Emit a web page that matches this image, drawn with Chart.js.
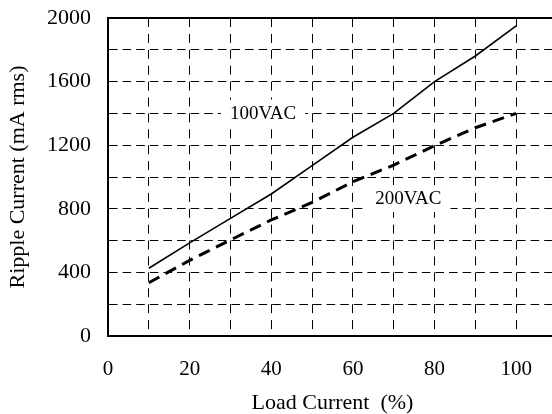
<!DOCTYPE html>
<html lang="en">
<head>
    <meta charset="UTF-8">
    <title>Ripple Current vs Load Current</title>
    <style>
        html, body { margin: 0; padding: 0; background: #fff; overflow: hidden; }
        #rippleChart { display: block; }
    </style>
</head>
<body>
    <canvas id="rippleChart" width="560" height="414"></canvas>

    <script src="https://cdn.jsdelivr.net/npm/chart.js"></script>
    <script>
        // Data
        const loadPct = [10, 20, 30, 40, 50, 60, 70, 80, 90, 100];
        const ripple100VAC = [426, 586, 740, 893, 1071, 1250, 1400, 1600, 1761, 1950];
        const ripple200VAC = [335, 476, 604, 730, 840, 970, 1075, 1197, 1310, 1400];
        const xGridValues = [0, 10, 20, 30, 40, 50, 60, 70, 80, 90, 100, 110];
        const xTickLabels = [0, 20, 40, 60, 80, 100];
        const yTickLabels = [0, 400, 800, 1200, 1600, 2000];

        const serif = '"Liberation Serif", "Times New Roman", serif';

        const toPoints = (xs, ys) => xs.map((x, i) => ({ x: x, y: ys[i] }));

        // top frame line + curve names with white boxes behind them
        const framePlugin = {
            id: 'frame',
            beforeDatasetsDraw(chart) {
                const { ctx, chartArea, scales } = chart;
                ctx.save();
                ctx.strokeStyle = '#000';
                ctx.lineWidth = 2;
                ctx.beginPath();
                ctx.moveTo(chartArea.left, chartArea.top);
                ctx.lineTo(chartArea.right, chartArea.top);
                ctx.stroke();

                const notes = [
                    { text: '100VAC', x: 38, y: 1405 },
                    { text: '200VAC', x: 73.6, y: 868 }
                ];
                ctx.font = '19px ' + serif;
                ctx.textAlign = 'center';
                ctx.textBaseline = 'middle';
                notes.forEach(n => {
                    const px = scales.x.getPixelForValue(n.x);
                    const py = scales.y.getPixelForValue(n.y);
                    const w = ctx.measureText(n.text).width;
                    ctx.fillStyle = '#fff';
                    ctx.fillRect(px - w / 2 - 9, py - 13, w + 18, 27);
                    ctx.fillStyle = '#000';
                    ctx.fillText(n.text, px, py + 1);
                });
                ctx.restore();
            }
        };

        new Chart(document.getElementById('rippleChart'), {
            type: 'line',
            data: {
                datasets: [
                    {
                        label: '100VAC',
                        data: toPoints(loadPct, ripple100VAC),
                        borderColor: '#000',
                        borderWidth: 1.6,
                        pointRadius: 0,
                        tension: 0
                    },
                    {
                        label: '200VAC',
                        data: toPoints(loadPct, ripple200VAC),
                        borderColor: '#000',
                        borderWidth: 3,
                        borderDash: [12, 7],
                        pointRadius: 0,
                        tension: 0
                    }
                ]
            },
            plugins: [framePlugin],
            options: {
                responsive: false,
                animation: false,
                layout: { padding: { top: 18, right: 3, left: 0, bottom: 0 } },
                plugins: {
                    legend: { display: false },
                    tooltip: { enabled: false }
                },
                scales: {
                    x: {
                        type: 'linear',
                        min: 0,
                        max: 110,
                        afterBuildTicks: scale => {
                            scale.ticks = xGridValues.map(v => ({ value: v }));
                        },
                        afterFit: scale => {
                            scale.height = 78;
                            scale.paddingLeft = 0;
                            scale.paddingRight = 0;
                        },
                        grid: {
                            color: c => (c.tick && c.tick.value === 0) ? 'rgba(0,0,0,0)' : '#000',
                            lineWidth: 1,
                            drawTicks: false
                        },
                        border: { display: true, color: '#000', width: 2, dash: [9, 6.9] },
                        ticks: {
                            autoSkip: false,
                            maxRotation: 0,
                            padding: 21,
                            color: '#000',
                            font: { family: serif, size: 21 },
                            callback: v => xTickLabels.includes(v) ? String(v) : ''
                        },
                        title: {
                            display: true,
                            text: 'Load Current  (%)',
                            color: '#000',
                            font: { family: serif, size: 22, lineHeight: 1 },
                            padding: { top: 0, bottom: 0 }
                        }
                    },
                    y: {
                        min: 0,
                        max: 2000,
                        afterFit: scale => {
                            scale.width = 108;
                            scale.paddingTop = 0;
                            scale.paddingBottom = 0;
                        },
                        grid: {
                            color: c => (c.tick && (c.tick.value === 0 || c.tick.value === 2000)) ? 'rgba(0,0,0,0)' : '#000',
                            lineWidth: 1,
                            drawTicks: false
                        },
                        border: { display: true, color: '#000', width: 2, dash: [8.6, 5] },
                        ticks: {
                            stepSize: 200,
                            padding: 17,
                            color: '#000',
                            font: { family: serif, size: 22 },
                            callback: v => yTickLabels.includes(v) ? String(v) : ''
                        },
                        title: {
                            display: true,
                            text: 'Ripple Current (mA rms)',
                            color: '#000',
                            font: { family: serif, size: 22, lineHeight: 1 },
                            padding: { top: 7, bottom: 0 }
                        }
                    }
                }
            }
        });
    </script>
</body>
</html>
